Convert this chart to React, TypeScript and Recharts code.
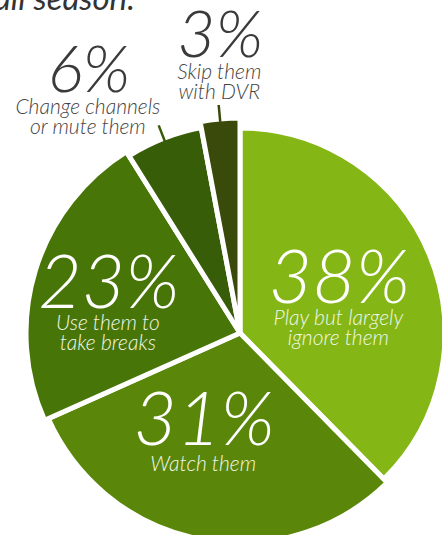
import { PieChart, Pie, Cell } from "recharts";

// what viewers do during the ads, share of respondents (%)
const CATEGORIES = [
  "Play but largely ignore them",
  "Watch them",
  "Use them to take breaks",
  "Change channels or mute them",
  "Skip them with DVR",
];
const SHARES = [38, 31, 23, 6, 3];
const LABEL_LINES = [
  ["Play but largely", "ignore them"],
  ["Watch them"],
  ["Use them to", "take breaks"],
  ["Change channels", "or mute them"],
  ["Skip them", "with DVR"],
];

const COLORS = ["#84B616", "#5A860A", "#487508", "#375D09", "#3A4A0A"];
// each slice is pulled out a little differently
const SLICE_RADIUS = [205, 210, 214, 209, 215];

// label placement: radius from centre along the slice mid-angle, plus a nudge
const LABEL_LAYOUT = [
  { r: 103, nx: 4, ny: 9, gap: 22, outside: false },
  { r: 112, nx: -15, ny: 2, gap: 26, outside: false },
  { r: 135, nx: -2, ny: 14, gap: 22, outside: false },
  { r: 250, nx: -60, ny: -8, gap: 22, outside: true },
  { r: 276, nx: 6, ny: -1, gap: 22, outside: true },
];

const data = CATEGORIES.map((name, i) => ({ name, value: SHARES[i] }));

const RAD = Math.PI / 180;
const FONT = "Lato, 'Open Sans', sans-serif";

function polar(cx: number, cy: number, r: number, angle: number) {
  return { x: cx + Math.cos(-angle * RAD) * r, y: cy + Math.sin(-angle * RAD) * r };
}

function renderLabel(props: any) {
  const { cx, cy, midAngle, outerRadius, index } = props;
  const layout = LABEL_LAYOUT[index];
  const p = polar(cx, cy, layout.r, midAngle);
  const x = p.x + layout.nx;
  const y = p.y + layout.ny;
  const numColor = layout.outside ? "#3A3A3A" : "#FFFFFF";
  const subColor = layout.outside ? "#444444" : "#F1F6E6";
  const big = layout.outside ? 66 : 75;

  let leader = null;
  if (layout.outside) {
    const a = polar(cx, cy, outerRadius - 3, midAngle);
    const b = polar(cx, cy, outerRadius + 14, midAngle);
    leader = <line x1={a.x} y1={a.y} x2={b.x} y2={b.y} stroke={COLORS[index]} strokeWidth={2.5} />;
  }

  return (
    <g key={`lbl-${index}`}>
      {leader}
      <text
        x={x}
        y={y}
        textAnchor="middle"
        fill={numColor}
        fontFamily={FONT}
        fontStyle="italic"
        fontWeight={300}
        fontSize={big}
      >
        {SHARES[index]}%
      </text>
      {LABEL_LINES[index].map((line, k) => (
        <text
          key={k}
          x={x - 1}
          y={y + layout.gap + k * 20}
          textAnchor="middle"
          fill={subColor}
          fontFamily={FONT}
          fontStyle="italic"
          fontWeight={300}
          fontSize={21}
        >
          {line}
        </text>
      ))}
    </g>
  );
}

export default function App() {
  return (
    <div style={{ position: "absolute", left: 0, top: 0, width: 442, height: 535, background: "#fff" }}>
      <PieChart width={442} height={535} margin={{ top: 0, right: 0, bottom: 0, left: 0 }}>
        <text x={-6} y={10} fill="#333333" fontFamily={FONT} fontStyle="italic" fontSize={33}>
          all season:
        </text>
        <Pie
          data={data}
          dataKey="value"
          nameKey="name"
          cx={240}
          cy={333}
          innerRadius={0}
          outerRadius={(entry: any) => SLICE_RADIUS[CATEGORIES.indexOf(entry.name)]}
          startAngle={90}
          endAngle={-270}
          stroke="#FFFFFF"
          strokeWidth={5}
          label={renderLabel}
          labelLine={false}
          isAnimationActive={false}
        >
          {data.map((d, i) => (
            <Cell key={d.name} fill={COLORS[i]} />
          ))}
        </Pie>
      </PieChart>
    </div>
  );
}
